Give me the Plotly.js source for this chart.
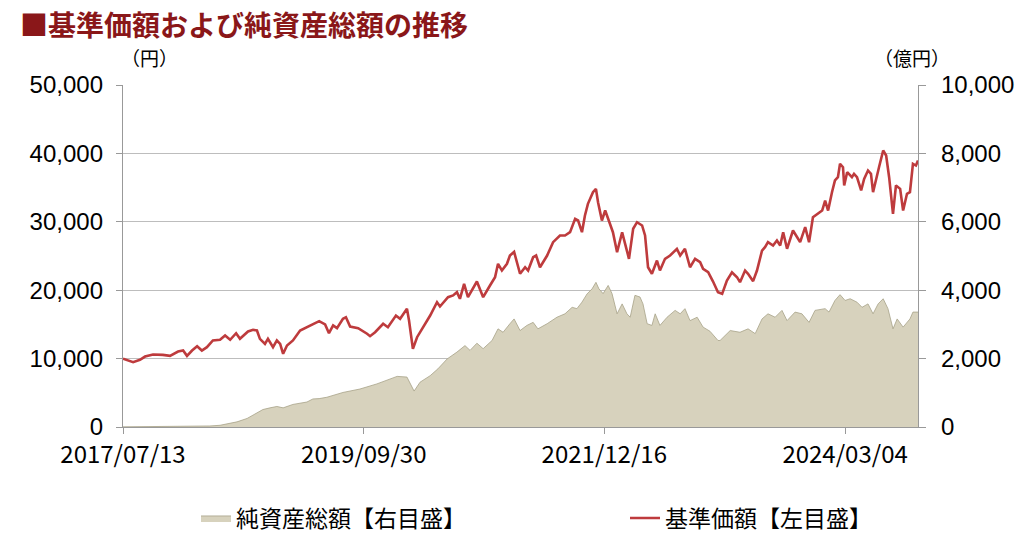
<!DOCTYPE html>
<html>
<head>
<meta charset="utf-8">
<script src="https://cdn.plot.ly/plotly-3.0.1.min.js"></script>
<style>html,body{margin:0;padding:0;background:#fff;}#chart{width:1024px;height:552px;}</style>
</head>
<body>
<div id="chart"></div>
<script>
// 基準価額 (円) — left axis
const navDates = [
'2017-07-13','2017-08-16','2017-09-08','2017-09-25','2017-10-22','2017-11-24','2017-12-18','2018-01-14','2018-01-31','2018-02-13',
'2018-03-02','2018-03-19','2018-04-04','2018-04-21','2018-05-11','2018-06-04','2018-06-21','2018-07-08','2018-07-28','2018-08-10',
'2018-09-06','2018-09-23','2018-10-06','2018-10-16','2018-11-02','2018-11-12','2018-11-29','2018-12-12','2018-12-23','2019-01-02',
'2019-01-15','2019-02-04','2019-02-28','2019-03-23','2019-04-12','2019-05-03','2019-05-23','2019-06-05','2019-06-19','2019-07-02',
'2019-07-22','2019-08-01','2019-08-15','2019-09-11','2019-10-11','2019-10-21','2019-11-07','2019-12-04','2019-12-20','2020-01-16',
'2020-01-30','2020-02-22','2020-02-29','2020-03-13','2020-03-27','2020-04-16','2020-05-10','2020-06-02','2020-06-12','2020-07-09',
'2020-07-26','2020-08-08','2020-08-18','2020-09-01','2020-09-14','2020-10-14','2020-11-04','2020-11-27','2020-12-14','2020-12-24',
'2021-01-06','2021-01-23','2021-02-02','2021-02-16','2021-02-26','2021-03-08','2021-03-25','2021-04-04','2021-04-21','2021-05-01',
'2021-05-14','2021-06-07','2021-06-27','2021-07-20','2021-08-06','2021-08-23','2021-09-09','2021-09-19','2021-10-02','2021-10-12',
'2021-10-22','2021-11-08','2021-11-18','2021-11-25','2021-12-08','2021-12-19','2022-01-04','2022-01-14','2022-01-28','2022-02-14',
'2022-02-24','2022-03-09','2022-03-23','2022-04-05','2022-04-22','2022-05-02','2022-05-12','2022-05-25','2022-06-11','2022-06-21',
'2022-07-08','2022-07-25','2022-08-17','2022-08-28','2022-09-13','2022-09-30','2022-10-17','2022-11-03','2022-11-13','2022-11-30',
'2022-12-16','2023-01-02','2023-01-16','2023-02-01','2023-02-18','2023-03-07','2023-03-17','2023-04-03','2023-04-13','2023-04-30',
'2023-05-13','2023-05-30','2023-06-09','2023-06-19','2023-07-06','2023-07-19','2023-07-30','2023-08-09','2023-08-22','2023-09-11',
'2023-09-25','2023-10-05','2023-10-22','2023-11-04','2023-11-17','2023-12-04','2023-12-18','2023-12-28','2024-01-07','2024-01-20',
'2024-01-30','2024-02-09','2024-02-16','2024-02-26','2024-03-01','2024-03-11','2024-03-27','2024-04-03','2024-04-13','2024-04-27',
'2024-05-07','2024-05-20','2024-05-30','2024-06-06','2024-06-19','2024-06-26','2024-07-10','2024-07-20','2024-07-30','2024-08-12',
'2024-08-22','2024-09-05','2024-09-15','2024-09-28','2024-10-08','2024-10-18','2024-10-28','2024-11-04'
];
const navValues = [
10000,9470,9820,10300,10600,10550,10400,11040,11180,10400,
11180,11810,11180,11670,12650,12750,13380,12750,13710,12890,
13960,14210,14110,12890,12160,12890,11670,12650,12160,10700,
11920,12650,14110,14590,14990,15470,14990,13710,14840,14450,
15820,16050,14690,14450,13630,13280,13860,15090,14590,16300,
15820,17280,15570,11430,13130,14590,16300,18250,17620,18980,
19230,19710,18740,20930,18980,21270,18980,20690,21900,23860,
22880,23860,25070,25600,24090,22400,23360,22880,24820,25070,
23360,25070,27020,28000,28000,28480,30440,30190,28480,30920,
32630,34330,34820,32870,30190,31650,29710,28480,25560,28480,
26780,24590,28980,29940,29460,28000,23360,22400,24340,22880,
24590,25070,26050,25070,26050,23360,24590,24090,23130,22630,
21300,19710,19470,21420,22630,21900,21170,22880,22400,21320,
22880,25800,26290,27020,26540,27270,26540,28480,26050,28730,
27750,27020,29210,27020,30670,31170,31650,33110,31650,34330,
36040,36520,38480,37980,35310,37250,36520,37010,36520,34580,
36280,37500,37010,34330,37010,37980,40420,39690,36520,31170,
35310,34820,31650,34090,34330,38480,38230,38960
];

// 純資産総額 (億円) — right axis
const assetDates = [
'2017-07-13','2017-12-18','2018-03-05','2018-05-01','2018-06-04','2018-07-08','2018-07-31','2018-09-03','2018-10-06','2018-10-26',
'2018-11-19','2018-12-12','2019-01-02','2019-02-04','2019-03-23','2019-04-12','2019-05-03','2019-05-29','2019-07-22','2019-09-17',
'2019-11-13','2019-12-17','2020-01-20','2020-02-22','2020-03-17','2020-04-06','2020-05-10','2020-06-05','2020-07-06','2020-08-08',
'2020-09-04','2020-09-21','2020-10-14','2020-11-04','2020-12-04','2020-12-24','2021-01-10','2021-02-02','2021-02-16','2021-03-08',
'2021-03-31','2021-04-21','2021-05-07','2021-06-07','2021-07-10','2021-08-06','2021-08-30','2021-09-15','2021-10-02','2021-10-19',
'2021-11-05','2021-11-18','2021-11-28','2021-12-12','2021-12-29','2022-01-11','2022-01-28','2022-02-14','2022-03-02','2022-03-13',
'2022-03-29','2022-04-15','2022-04-25','2022-05-09','2022-05-25','2022-06-05','2022-06-21','2022-07-15','2022-08-11','2022-08-28',
'2022-09-13','2022-09-30','2022-10-24','2022-11-13','2022-12-06','2023-01-02','2023-01-09','2023-02-12','2023-03-17','2023-04-13',
'2023-05-07','2023-05-30','2023-06-19','2023-07-13','2023-08-05','2023-08-22','2023-09-18','2023-10-11','2023-11-04','2023-11-24',
'2023-12-28','2024-01-10','2024-01-30','2024-02-16','2024-03-04','2024-03-21','2024-04-13','2024-04-30','2024-05-20','2024-06-06',
'2024-06-23','2024-07-10','2024-07-26','2024-08-12','2024-08-26','2024-09-15','2024-10-08','2024-10-18','2024-11-04'
];
const assetValues = [
5,8,15,30,50,100,150,250,420,510,
560,600,560,660,730,820,830,870,1010,1110,
1260,1360,1480,1460,1050,1310,1500,1700,1990,2190,
2380,2240,2450,2290,2530,2870,2770,3020,3160,2820,
2970,3060,2870,3020,3210,3310,3500,3460,3650,3890,
4040,4230,4040,3900,4140,3900,3310,3600,3310,3210,
3850,3800,3600,3020,2970,3310,2970,3210,3410,3310,
3460,3110,3210,2920,2800,2530,2530,2820,2770,2870,
2730,3160,3310,3210,3410,3110,3360,3310,3060,3410,
3460,3360,3700,3870,3700,3750,3650,3500,3600,3310,
3600,3750,3460,2870,3160,2920,3160,3360,3360
];

const xTickVals = ['2017-07-13','2019-09-30','2021-12-16','2024-03-04'];
const xTickText = ['2017/07/13','2019/09/30','2021/12/16','2024/03/04'];
const xRange = ['2017-07-13','2024-11-04'];

const JP = '"Noto Sans CJK JP", "Noto Sans", sans-serif';
const NUM = '"Liberation Sans", Arial, sans-serif';

const traces = [
  {
    x: assetDates, y: assetValues, yaxis: 'y2', type: 'scatter', mode: 'lines',
    name: '純資産総額【右目盛】', legend: 'legend',
    fill: 'tozeroy', fillcolor: '#d7d2bd',
    line: {color: '#a7a288', width: 0.8}
  },
  {
    x: navDates, y: navValues, yaxis: 'y', type: 'scatter', mode: 'lines',
    name: '基準価額【左目盛】', legend: 'legend2',
    line: {color: '#be3b3d', width: 2.6}
  }
];

const legendCommon = {
  orientation: 'h', xref: 'container', yref: 'container',
  xanchor: 'left', yanchor: 'middle',
  font: {family: JP, size: 23, color: '#000'},
  bgcolor: 'rgba(0,0,0,0)'
};

const layout = {
  width: 1024, height: 552,
  paper_bgcolor: '#ffffff', plot_bgcolor: '#ffffff',
  margin: {l: 123, r: 106, t: 85, b: 125, autoexpand: false},
  title: {
    text: '■基準価額および純資産総額の推移',
    font: {family: JP, size: 28, color: '#8a1719', weight: 'bold'},
    x: 20/1024, xanchor: 'left', xref: 'container',
    y: 1 - 26/552, yanchor: 'middle', yref: 'container'
  },
  showlegend: true,
  legend: Object.assign({}, legendCommon, {x: 196/1024, y: 1 - 518/552}),
  legend2: Object.assign({}, legendCommon, {x: 625/1024, y: 1 - 518/552}),
  xaxis: {
    type: 'date', range: xRange,
    tickvals: xTickVals, ticktext: xTickText,
    ticks: 'outside', ticklen: 6, tickcolor: '#999', tickwidth: 1,
    showgrid: false, zeroline: false,
    showline: true, linecolor: '#999', linewidth: 1.2,
    tickfont: {family: JP, size: 24, color: '#000'},
    fixedrange: true
  },
  yaxis: {
    range: [0, 50000], dtick: 10000, tick0: 0,
    tickformat: ',d', separatethousands: true,
    ticks: 'outside', ticklen: 6, tickcolor: '#999',
    showgrid: true, gridcolor: '#bdbdbd', gridwidth: 1.2,
    zeroline: false, showline: true, linecolor: '#999', linewidth: 1.2,
    tickfont: {family: NUM, size: 24, color: '#000'},
    ticklabelstandoff: 8,
    fixedrange: true
  },
  yaxis2: {
    overlaying: 'y', side: 'right',
    range: [0, 10000], dtick: 2000, tick0: 0,
    tickformat: ',d', separatethousands: true,
    ticks: 'outside', ticklen: 7, tickcolor: '#999',
    showgrid: false, zeroline: false, showline: true, linecolor: '#999', linewidth: 1.2,
    tickfont: {family: NUM, size: 24, color: '#000'},
    ticklabelstandoff: 10,
    fixedrange: true
  },
  annotations: [
    {text: '（円）', xref: 'paper', yref: 'paper', x: -0.005, y: 1 + (426.5-58-341.5)/341.5, xanchor: 'left', yanchor: 'middle',
     showarrow: false, font: {family: JP, size: 19, color: '#000'}},
    {text: '（億円）', xref: 'paper', yref: 'paper', x: (952-123)/795, y: 1 + (426.5-58-341.5)/341.5, xanchor: 'right', yanchor: 'middle',
     showarrow: false, font: {family: JP, size: 19, color: '#000'}}
  ]
};

Plotly.newPlot('chart', traces, layout, {displayModeBar: false, staticPlot: true});
</script>
</body>
</html>
